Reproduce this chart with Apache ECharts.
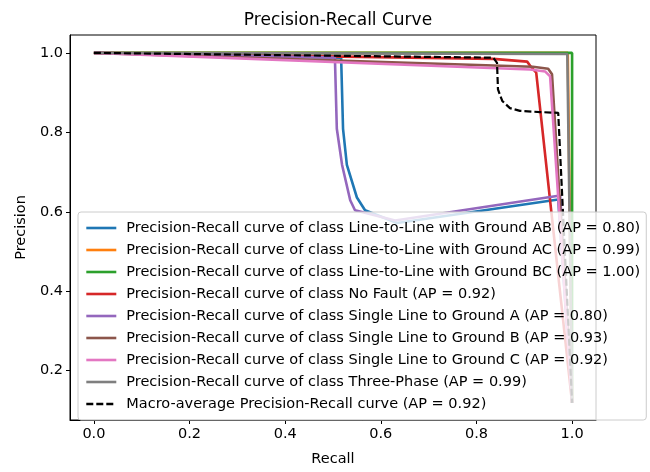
<!DOCTYPE html>
<html>
<head>
<meta charset="utf-8">
<script src="https://cdn.jsdelivr.net/npm/echarts@6/dist/echarts.min.js"></script>
<style>
  html, body { margin: 0; padding: 0; background: #fff; }
  #pr-chart { width: 650px; height: 472px; }
</style>
</head>
<body>
<div id="pr-chart"></div>
<script>
const chartElement = document.getElementById('pr-chart');
const myChart = echarts.init(chartElement);

// class names and AP scores, in legend order
const classNames = [
    'Line-to-Line with Ground AB',
    'Line-to-Line with Ground AC',
    'Line-to-Line with Ground BC',
    'No Fault',
    'Single Line to Ground A',
    'Single Line to Ground B',
    'Single Line to Ground C',
    'Three-Phase',
];
const apScores = ['0.80', '0.99', '1.00', '0.92', '0.80', '0.93', '0.92', '0.99'];
const macroAp = '0.92';
const colors = ['#1f77b4', '#ff7f0e', '#2ca02c', '#d62728', '#9467bd', '#8c564b', '#e377c2', '#7f7f7f'];

// recall / precision
const recallAB = [0, 0.517, 0.521, 0.529, 0.550, 0.567, 0.634, 0.971, 1.0];
const precisionAB = [1, 0.988, 0.809, 0.718, 0.636, 0.604, 0.572, 0.631, 0.119];
const recallAC = [0, 0.991, 1.0];
const precisionAC = [1, 1.0, 0.119];
const recallBC = [0, 1.0, 1.0];
const precisionBC = [1, 1.0, 0.119];
const recallNoFault = [0, 0.835, 0.906, 0.912, 0.925, 1.0];
const precisionNoFault = [1, 0.985, 0.978, 0.968, 0.950, 0.119];
const recallA = [0, 0.504, 0.508, 0.519, 0.536, 0.546, 0.630, 0.975, 1.0];
const precisionA = [1, 0.988, 0.809, 0.718, 0.629, 0.604, 0.578, 0.641, 0.119];
const recallB = [0, 0.918, 0.950, 0.958, 1.0];
const precisionB = [1, 0.965, 0.960, 0.946, 0.119];
const recallC = [0, 0.912, 0.944, 0.954, 1.0];
const precisionC = [1, 0.958, 0.953, 0.941, 0.119];
const recallThree = [0, 0.990, 1.0];
const precisionThree = [1, 0.997, 0.119];
const recallMacro = [0, 0.835, 0.843, 0.845, 0.854, 0.870, 0.891, 0.933, 0.971, 1.0];
const precisionMacro = [1, 0.988, 0.975, 0.908, 0.879, 0.861, 0.854, 0.851, 0.849, 0.119];

const xTicks = [0, 0.2, 0.4, 0.6, 0.8, 1.0];
const yTicks = [0.2, 0.4, 0.6, 0.8, 1.0];

const curves = [
    [recallAB, precisionAB],
    [recallAC, precisionAC],
    [recallBC, precisionBC],
    [recallNoFault, precisionNoFault],
    [recallA, precisionA],
    [recallB, precisionB],
    [recallC, precisionC],
    [recallThree, precisionThree],
];

const FONT = 'DejaVu Sans';
const FS = 14.5;
const zip = (xs, ys) => xs.map((x, i) => [x, ys[i]]);

const series = curves.map(([r, p], i) => ({
    name: `Precision-Recall curve of class ${classNames[i]} (AP = ${apScores[i]})`,
    type: 'line',
    data: zip(r, p),
    symbol: 'none',
    color: colors[i],
    lineStyle: {width: 2.6, color: colors[i]},
    animation: false,
}));
series.push({
    name: `Macro-average Precision-Recall curve (AP = ${macroAp})`,
    type: 'line',
    data: zip(recallMacro, precisionMacro),
    symbol: 'none',
    color: '#000',
    lineStyle: {width: 2.2, color: '#000', type: [7, 3]},
    animation: false,
});

const axisCommon = {
    type: 'value',
    axisLine: {show: true, onZero: false, lineStyle: {color: '#000', width: 1}},
    axisTick: {show: true, length: 4, lineStyle: {color: '#000'}},
    splitLine: {show: false},
    nameTextStyle: {fontFamily: FONT, fontSize: FS, color: '#000'},
};

const option = {
    backgroundColor: '#fff',
    title: {
        text: 'Precision-Recall Curve',
        left: 333,
        top: 7,
        textAlign: 'center',
        textStyle: {fontFamily: FONT, fontSize: 17, fontWeight: 'normal', color: '#000'},
    },
    grid: {
        left: 70, right: 54, top: 35, bottom: 45,
        show: true, borderColor: '#000', borderWidth: 1,
        containLabel: false,
    },
    xAxis: {
        ...axisCommon,
        min: -0.05,
        max: 1.05,
        name: 'Recall',
        nameLocation: 'middle',
        nameGap: 32,
        axisTick: {...axisCommon.axisTick, customValues: xTicks},
        axisLabel: {
            customValues: xTicks,
            margin: 7,
            fontFamily: FONT, fontSize: FS, color: '#000',
            formatter: (v) => v.toFixed(1),
        },
    },
    yAxis: {
        ...axisCommon,
        min: 0.076,
        max: 1.045,
        name: 'Precision',
        nameLocation: 'middle',
        nameGap: 38,
        axisTick: {...axisCommon.axisTick, customValues: yTicks},
        axisLabel: {
            customValues: yTicks,
            margin: 7,
            fontFamily: FONT, fontSize: FS, color: '#000',
            formatter: (v) => v.toFixed(1),
        },
    },
    legend: {
        orient: 'vertical',
        left: 78,
        top: 212,
        padding: [8, 6, 8, 7],
        itemWidth: 30,
        itemHeight: 16,
        itemGap: 6,
        itemStyle: {opacity: 0},
        lineStyle: {width: 2.6},
        backgroundColor: 'rgba(255,255,255,0.8)',
        borderColor: '#cccccc',
        borderWidth: 1,
        borderRadius: 3,
        textStyle: {fontFamily: FONT, fontSize: FS, lineHeight: 16, color: '#000', padding: [0, 0, 0, 5]},
        selectedMode: false,
    },
    series,
};

myChart.setOption(option);
</script>
</body>
</html>
